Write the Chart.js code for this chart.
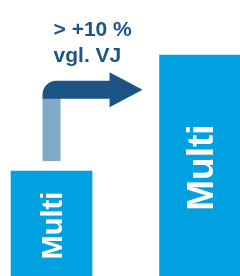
<!DOCTYPE html>
<html lang="de">
<head>
    <meta charset="UTF-8">
    <title>Multi vgl. VJ</title>
    <script src="https://cdn.jsdelivr.net/npm/chart.js"></script>
    <style>
        body { margin: 0; background: #fff; }
        #wrap { width: 240px; height: 276px; position: relative; }
    </style>
</head>
<body>
    <div id="wrap"><canvas id="chart"></canvas></div>
    <script>
        // data
        const categories = ['VJ', 'aktuell'];
        const values = [38, 80];
        const barLabels = ['Multi', 'Multi'];
        const calloutLines = ['> +10 %', 'vgl. VJ'];
        const arrowLevel = 67.5; // value on the y scale where the arrow runs

        const barBlue = '#00a1e0';
        const darkBlue = '#1c5485';
        const lightBlue = '#80a9c6';
        const labelSizes = [29, 37];

        const overlay = {
            id: 'overlay',
            afterDatasetsDraw(chart) {
                const ctx = chart.ctx;
                const meta = chart.getDatasetMeta(0);
                const a = meta.data[0], b = meta.data[1];
                const lvl = chart.scales.y.getPixelForValue(arrowLevel);

                // arrow
                const stemW = 18, half = 9, r = 14;
                const left = a.x - stemW / 2;
                const top = lvl - half, bottom = lvl + half;
                const tip = b.x - b.width / 2 - 17;
                const headStart = tip - 33;
                ctx.save();
                ctx.fillStyle = lightBlue;
                ctx.fillRect(left, bottom - 1, stemW, (a.y - 10) - (bottom - 1));
                ctx.fillStyle = darkBlue;
                ctx.beginPath();
                ctx.moveTo(left, bottom);
                ctx.lineTo(left, top + r);
                ctx.arcTo(left, top, left + r, top, r);
                ctx.lineTo(headStart, top);
                ctx.lineTo(headStart, lvl - 17.5);
                ctx.lineTo(tip, lvl);
                ctx.lineTo(headStart, lvl + 17.5);
                ctx.lineTo(headStart, bottom);
                ctx.closePath();
                ctx.fill();

                // callout text
                ctx.font = 'bold 21px "Liberation Sans", Arial, sans-serif';
                ctx.textAlign = 'left';
                ctx.textBaseline = 'alphabetic';
                calloutLines.forEach((t, i) => {
                    ctx.fillText(t, left + 11, top - 19 - (calloutLines.length - 1 - i) * 26);
                });

                // labels inside bars
                ctx.fillStyle = '#fff';
                meta.data.forEach((el, i) => {
                    const size = labelSizes[i];
                    const cap = size * 0.716;
                    ctx.save();
                    ctx.translate(el.x + cap / 2, (el.y + el.base) / 2 + 2);
                    ctx.rotate(-Math.PI / 2);
                    ctx.font = `bold ${size}px "Liberation Sans", Arial, sans-serif`;
                    ctx.textAlign = 'center';
                    ctx.fillText(barLabels[i], 0, 0);
                    ctx.restore();
                });
                ctx.restore();
            }
        };

        new Chart(document.getElementById('chart'), {
            type: 'bar',
            data: {
                labels: categories,
                datasets: [{
                    data: values.map((v, i) => ({ x: i, y: v })),
                    backgroundColor: barBlue,
                    borderWidth: 0,
                    barThickness: 81
                }]
            },
            options: {
                responsive: true,
                maintainAspectRatio: false,
                animation: false,
                layout: { padding: 0 },
                plugins: { legend: { display: false }, tooltip: { enabled: false } },
                scales: {
                    x: { type: 'linear', min: -0.347, max: 1.269, offset: false, display: false },
                    y: { min: 0, max: 100, display: false }
                }
            },
            plugins: [overlay]
        });
    </script>
</body>
</html>
